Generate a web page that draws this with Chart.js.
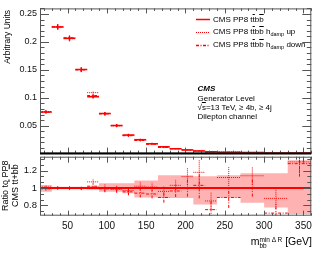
<!DOCTYPE html>
<html>
<head>
<meta charset="utf-8">
<script src="https://cdn.jsdelivr.net/npm/chart.js@4.4.0/dist/chart.umd.min.js"></script>
<style>
html, body { margin: 0; padding: 0; background: #fff; }
#wrap { position: relative; width: 332px; height: 257px; overflow: hidden; font-family: "Liberation Sans", Arial, sans-serif; color: #000; }
canvas { position: absolute; left: 0; }
.t { position: absolute; white-space: nowrap; line-height: 1; }
.o { text-decoration: overline; }
.vert { writing-mode: vertical-rl; transform: rotate(180deg); text-align: center; }
.leg { position: absolute; left: 196px; }
sub { font-size: 5.5px; vertical-align: -2px; }
</style>
</head>
<body>
<div id="wrap">
  <canvas id="top" width="332" height="162" style="top:0"></canvas>
  <canvas id="ratio" width="332" height="109" style="top:148px"></canvas>

  <div class="t vert" style="left:3px;top:10px;font-size:8.5px;">Arbitrary Units</div>
  <div class="t vert" style="left:1px;top:156px;height:60px;font-size:9px;line-height:9.5px;">Ratio to PP8<br>CMS t<span class="o">t</span>+b<span class="o">b</span></div>

  <svg class="leg" style="top:18px" width="15" height="3"><line x1="0" y1="1.5" x2="14" y2="1.5" stroke="#f00" stroke-width="1.5"/></svg>
  <svg class="leg" style="top:31px" width="15" height="3"><line x1="0" y1="1.5" x2="14" y2="1.5" stroke="#f00" stroke-width="1.2" stroke-dasharray="1 1"/></svg>
  <svg class="leg" style="top:43.5px" width="15" height="3"><line x1="0" y1="1.5" x2="14" y2="1.5" stroke="#f00" stroke-width="1.3" stroke-dasharray="3 1.5 1 1.5"/></svg>
  <div class="t" style="left:213px;top:15.5px;font-size:8px;">CMS PP8 t<span class="o">t</span>b<span class="o">b</span></div>
  <div class="t" style="left:213px;top:28px;font-size:8px;">CMS PP8 t<span class="o">t</span>b<span class="o">b</span> h<sub>damp</sub> up</div>
  <div class="t" style="left:213px;top:40.5px;font-size:8px;">CMS PP8 t<span class="o">t</span>b<span class="o">b</span> h<sub>damp</sub> down</div>

  <div class="t" style="left:197.5px;top:85px;font-size:8px;font-weight:bold;font-style:italic;">CMS</div>
  <div class="t" style="left:197.5px;top:94.5px;font-size:8px;">Generator Level</div>
  <div class="t" style="left:197.5px;top:103.5px;font-size:8px;">&#8730;<span class="o">s</span>=13 TeV, &#8805; 4b, &#8805; 4j</div>
  <div class="t" style="left:197.5px;top:112.5px;font-size:8px;">Dilepton channel</div>

  <div class="t" style="right:20px;top:236px;font-size:10.5px;">m<span style="display:inline-block;vertical-align:-3px;line-height:6.5px;font-size:6.5px;text-align:left;">min &#916; R<br>bb</span> [GeV]</div>
</div>

<script>
// bins (GeV): 15 GeV wide up to 240, then 30 GeV wide
const binEdges = [15, 30, 45, 60, 75, 90, 105, 120, 135, 150, 165, 180, 195, 210, 225, 240, 270, 300, 330, 360];

// upper panel, arbitrary units
const nominal   = [0.0747, 0.2265, 0.2065, 0.1506, 0.1020, 0.0717, 0.0505, 0.0335, 0.0250, 0.0178, 0.0124, 0.0088, 0.0064, 0.0045, 0.0035, 0.0026, 0.0018, 0.0012, 0.0009];
const hdampUp   = [0.0754, 0.2276, 0.2055, 0.1506, 0.1091, 0.0717, 0.0497, 0.0325, 0.0255, 0.0180, 0.0119, 0.0091, 0.0072, 0.0053, 0.0030, 0.0029, 0.0021, 0.0011, 0.0012];
const hdampDown = [0.0740, 0.2265, 0.2075, 0.1498, 0.1040, 0.0710, 0.0500, 0.0320, 0.0235, 0.0166, 0.0110, 0.0085, 0.0064, 0.0046, 0.0026, 0.0023, 0.0018, 0.00085, 0.00115];
const statErr   = [0.0025, 0.0045, 0.0045, 0.0040, 0.0035, 0.0030, 0.0025, 0.0020, 0.0018, 0.0015, 0.0012, 0.0010, 0.0009, 0.0008, 0.0007, 0.0006, 0.0005, 0.0004, 0.0004];

// lower panel, ratio to nominal
const ratioNominal = [1, 1, 1, 1, 1, 1, 1, 1, 1, 1, 1, 1, 1, 1, 1, 1, 1, 1, 1];
const ratioUp      = [1.01, 1.005, 0.995, 1.0, 1.07, 1.0, 0.985, 0.97, 1.02, 1.01, 0.96, 1.03, 1.13, 1.18, 0.85, 1.12, 1.14, 0.88, 1.30];
const ratioDown    = [0.99, 1.0, 1.005, 0.995, 1.02, 0.99, 0.99, 0.955, 0.94, 0.93, 0.89, 0.965, 1.0, 1.03, 0.75, 0.89, 1.0, 0.71, 1.28];
const ratioErr     = [0.02, 0.02, 0.02, 0.02, 0.03, 0.04, 0.04, 0.04, 0.05, 0.05, 0.06, 0.07, 0.10, 0.15, 0.10, 0.12, 0.10, 0.12, 0.15];
const bandHigh     = [1.035, 1.015, 1.015, 1.015, 1.02, 1.055, 1.055, 1.055, 1.085, 1.085, 1.145, 1.145, 1.145, 1.135, 1.135, 1.145, 1.17, 1.17, 1.32];
const bandLow      = [0.955, 0.985, 0.985, 0.985, 0.98, 0.955, 0.955, 0.94, 0.89, 0.89, 0.885, 0.885, 0.885, 0.81, 0.81, 0.888, 0.83, 0.775, 0.70];

// axis ticks
const xTickLabels = [50, 100, 150, 200, 250, 300, 350];
const topYTicks = [0.05, 0.1, 0.15, 0.2, 0.25];
const ratioYTicks = [0.8, 1, 1.2];

const RED = '#ff0000';
Chart.defaults.font.family = '"Liberation Sans", Arial, sans-serif';
Chart.defaults.color = '#000';

// horizontal bar per bin + vertical error bar, separated by gaps
function binSegments(values, errors) {
  const pts = [];
  values.forEach((v, i) => {
    const lo = binEdges[i], hi = binEdges[i + 1], c = (lo + hi) / 2;
    pts.push({ x: lo, y: v }, { x: hi, y: v }, { x: hi, y: null });
    if (errors) pts.push({ x: c, y: v - errors[i] }, { x: c, y: v + errors[i] }, { x: c, y: null });
  });
  return pts;
}

function steps(values) {
  const pts = [];
  values.forEach((v, i) => pts.push({ x: binEdges[i], y: v }, { x: binEdges[i + 1], y: v }));
  return pts;
}

function seg(data, dash, width) {
  return { data: data, borderColor: RED, borderWidth: width, borderDash: dash, pointRadius: 0, fill: false, spanGaps: false };
}

// frame with inward ticks on all four sides (ROOT style)
const frameTicks = {
  id: 'frameTicks',
  afterDatasetsDraw(chart, args, o) {
    const { ctx, chartArea: a } = chart;
    const xs = chart.scales.x, ys = chart.scales.y;
    ctx.save();
    ctx.strokeStyle = '#555';
    ctx.lineWidth = 1;
    ctx.strokeRect(a.left + 0.5, a.top + 0.5, a.right - a.left - 1, a.bottom - a.top - 1);
    ctx.beginPath();
    for (let v = 20; v <= 360; v += 10) {
      const px = Math.round(xs.getPixelForValue(v)) + 0.5;
      const major = v % 50 === 0;
      const lb = major ? o.xBottom : o.xBottom / 2;
      const lt = major ? o.xTop : o.xTop / 2;
      ctx.moveTo(px, a.bottom); ctx.lineTo(px, a.bottom - lb);
      ctx.moveTo(px, a.top); ctx.lineTo(px, a.top + lt);
    }
    o.yTicks.forEach(t => {
      const py = Math.round(ys.getPixelForValue(t.v)) + 0.5;
      if (py < a.top || py > a.bottom) return;
      const len = t.major ? o.yLen : o.yLen / 2;
      ctx.moveTo(a.left, py); ctx.lineTo(a.left + len, py);
      ctx.moveTo(a.right, py); ctx.lineTo(a.right - len, py);
    });
    ctx.stroke();
    if (o.thickBottom) {
      ctx.strokeStyle = '#000';
      ctx.lineWidth = 2;
      ctx.beginPath();
      ctx.moveTo(a.left, a.bottom); ctx.lineTo(a.right, a.bottom);
      ctx.stroke();
    }
    ctx.restore();
  }
};

const topMinor = [];
for (let k = 1; k <= 26; k++) topMinor.push({ v: k / 100, major: k % 5 === 0 });
const ratioMinor = [];
for (let k = -1; k <= 8; k++) ratioMinor.push({ v: 0.8 + k * 0.2 / 3, major: k % 3 === 0 });

const fmt = v => String(+v.toFixed(3));

new Chart(document.getElementById('top'), {
  type: 'line',
  data: {
    datasets: [
      seg(binSegments(hdampDown, statErr), [3, 1.5, 1, 1.5], 1),
      seg(binSegments(hdampUp, statErr), [1, 1], 1),
      seg(binSegments(nominal, statErr), [], 1.5)
    ]
  },
  options: {
    responsive: false,
    animation: false,
    devicePixelRatio: 1,
    layout: { padding: { top: 7.3, right: 20.7, bottom: 7.7, left: 0 } },
    plugins: {
      legend: { display: false },
      tooltip: { enabled: false },
      frameTicks: { xBottom: 6, xTop: 5, yLen: 9, yTicks: topMinor, thickBottom: true }
    },
    scales: {
      x: { type: 'linear', min: 15, max: 360, display: false },
      y: {
        min: 0, max: 0.26,
        grid: { display: false, drawTicks: false },
        border: { display: false },
        afterBuildTicks: s => { s.ticks = topYTicks.map(v => ({ value: v })); },
        afterFit: s => { s.width = 40; },
        ticks: { padding: 3, font: { size: 9 }, color: '#111', callback: fmt }
      }
    }
  },
  plugins: [frameTicks]
});

new Chart(document.getElementById('ratio'), {
  type: 'line',
  data: {
    datasets: [
      { data: steps(bandLow), borderWidth: 0, pointRadius: 0, fill: false },
      { data: steps(bandHigh), borderWidth: 0, pointRadius: 0, fill: '-1', backgroundColor: 'rgba(255,0,0,0.3)' },
      seg(steps(ratioNominal), [], 2),
      seg(binSegments(ratioDown, ratioErr), [3, 1.5, 1, 1.5], 1),
      seg(binSegments(ratioUp, ratioErr), [1, 1], 1)
    ]
  },
  options: {
    responsive: false,
    animation: false,
    devicePixelRatio: 1,
    layout: { padding: { top: 7, right: 20.7, bottom: 0, left: 0 } },
    plugins: {
      legend: { display: false },
      tooltip: { enabled: false },
      frameTicks: { xBottom: 5, xTop: 6, yLen: 8, yTicks: ratioMinor, thickBottom: false }
    },
    scales: {
      x: {
        type: 'linear', min: 15, max: 360,
        grid: { display: false, drawTicks: false },
        border: { display: false },
        afterBuildTicks: s => { s.ticks = xTickLabels.map(v => ({ value: v })); },
        afterFit: s => { s.height = 41.3; },
        ticks: { padding: 5, font: { size: 10 }, color: '#111', maxRotation: 0, callback: fmt }
      },
      y: {
        min: 0.68, max: 1.36,
        grid: { display: false, drawTicks: false },
        border: { display: false },
        afterBuildTicks: s => { s.ticks = ratioYTicks.map(v => ({ value: v })); },
        afterFit: s => { s.width = 40; },
        ticks: { padding: 3, font: { size: 9.5 }, color: '#111', callback: fmt }
      }
    }
  },
  plugins: [frameTicks]
});
</script>
</body>
</html>
